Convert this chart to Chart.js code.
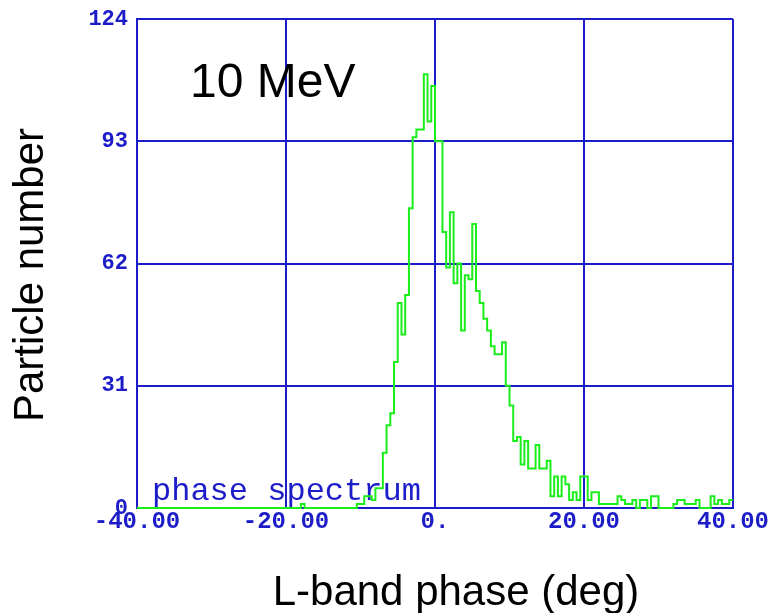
<!DOCTYPE html>
<html>
<head>
<meta charset="utf-8">
<script src="https://cdn.jsdelivr.net/npm/chart.js@4/dist/chart.umd.min.js"></script>
<style>
  body { margin: 0; background: #fff; }
  canvas { display: block; }
</style>
</head>
<body>
<canvas id="spectrum" width="773" height="613"></canvas>
<script>
// phase spectrum at 10 MeV, 0.5 deg bins from -40 to +40 deg
const binStart = -40;
const binWidth = 0.5;
const counts = [
  0, 0, 0, 0, 0, 0, 0, 0, 0, 0,   0, 0, 0, 0, 0, 0, 0, 0, 0, 0,
  0, 0, 0, 0, 0, 0, 0, 0, 0, 0,   0, 0, 0, 0, 0, 0, 0, 0, 0, 0,
  0, 0, 0, 0, 1, 0, 0, 0, 0, 0,   0, 0, 0, 0, 0, 0, 0, 0, 0, 1,
  1, 3, 3, 2, 5, 5, 14, 21, 24, 37,   52, 44, 54, 76, 94, 96, 96, 110, 98, 107,
  93, 93, 70, 61, 75, 57, 62, 45, 59, 58,   72, 55, 52, 48, 45, 41, 39, 39, 42, 31,
  26, 17, 18, 11, 17, 10, 10, 16, 10, 10,   12, 3, 8, 3, 8, 6, 2, 4, 2, 8,
  8, 2, 4, 4, 1, 1, 1, 1, 1, 3,   2, 1, 1, 2, 0, 2, 2, 0, 3, 3,
  0, 0, 0, 0, 1, 2, 2, 1, 1, 1,   2, 0, 0, 0, 3, 1, 2, 1, 1, 2
];
const xTicks = [-40, -20, 0, 20, 40];
const yTicks = [0, 31, 62, 93, 124];

const BLUE = '#1c1cc8';
const GREEN = '#1aee1a';
const MONO = '"Liberation Mono", "DejaVu Sans Mono", monospace';
const SANS = '"Liberation Sans", Arial, sans-serif';

// bin left edges, plus closing point at the right edge
const points = counts.map((c, i) => ({ x: binStart + i * binWidth, y: c }));
points.push({ x: binStart + counts.length * binWidth, y: counts[counts.length - 1] });

const labelsPlugin = {
  id: 'labels',
  beforeDatasetsDraw(chart) {
    const ctx = chart.ctx;
    ctx.save();
    ctx.fillStyle = BLUE;
    ctx.font = '32px ' + MONO;
    ctx.textBaseline = 'alphabetic';
    ctx.fillText('phase spectrum', 152, 500);
    ctx.restore();
  },
  afterDraw(chart) {
    const ctx = chart.ctx;
    ctx.save();
    ctx.fillStyle = '#000';
    ctx.textBaseline = 'alphabetic';

    ctx.font = '48px ' + SANS;
    ctx.textAlign = 'left';
    ctx.fillText('10 MeV', 190, 97);

    ctx.font = '42px ' + SANS;
    ctx.textAlign = 'center';
    ctx.fillText('L-band phase (deg)', 456, 605);

    ctx.translate(43, 275);
    ctx.rotate(-Math.PI / 2);
    ctx.fillText('Particle number', 0, 0);
    ctx.restore();
  }
};

new Chart(document.getElementById('spectrum'), {
  type: 'line',
  data: {
    datasets: [{
      label: 'phase spectrum',
      data: points,
      stepped: 'before',
      borderColor: GREEN,
      borderWidth: 2,
      pointRadius: 0,
      fill: false,
      clip: false,
    }]
  },
  options: {
    responsive: false,
    animation: false,
    layout: { padding: { top: 19, right: 40, left: 0, bottom: 0 } },
    plugins: {
      legend: { display: false },
      tooltip: { enabled: false }
    },
    scales: {
      x: {
        type: 'linear',
        min: -40,
        max: 40,
        afterBuildTicks: (scale) => { scale.ticks = xTicks.map(v => ({ value: v })); },
        afterFit: (scale) => { scale.height = 105; },
        ticks: {
          autoSkip: false,
          maxRotation: 0,
          padding: 0,
          color: BLUE,
          font: { family: MONO, size: 24, weight: 'bold' },
          callback: (v) => v === 0 ? '0.' : v.toFixed(2)
        },
        grid: { color: BLUE, lineWidth: 2, drawTicks: false },
        border: { color: BLUE, width: 2 }
      },
      y: {
        min: 0,
        max: 124,
        afterBuildTicks: (scale) => { scale.ticks = yTicks.map(v => ({ value: v })); },
        afterFit: (scale) => {
          scale.width = 137;
          scale.paddingTop = 0;
          scale.paddingBottom = 0;
        },
        ticks: {
          padding: 9,
          color: BLUE,
          font: { family: MONO, size: 22, weight: 'bold' }
        },
        grid: { color: BLUE, lineWidth: 2, drawTicks: false },
        border: { color: BLUE, width: 2 }
      }
    }
  },
  plugins: [labelsPlugin]
});
</script>
</body>
</html>
